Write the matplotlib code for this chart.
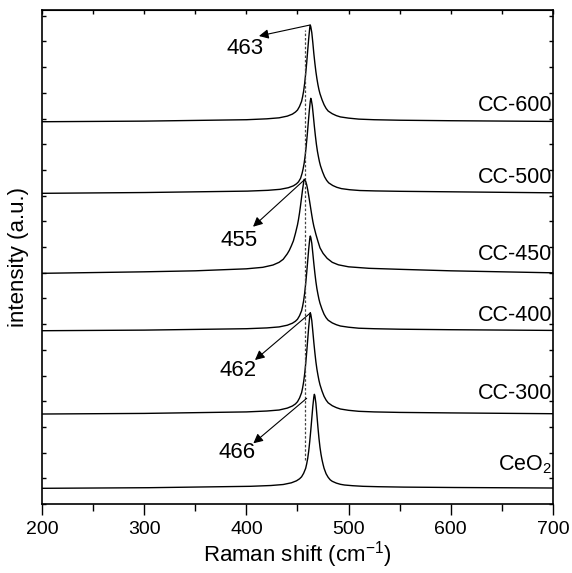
import numpy as np
import matplotlib
matplotlib.use('Agg')
import matplotlib.pyplot as plt
from matplotlib.ticker import MultipleLocator

plt.rcParams['font.family'] = ['Liberation Sans', 'DejaVu Sans']
plt.rcParams['mathtext.fontset'] = 'custom'
plt.rcParams['mathtext.rm'] = 'Liberation Sans'
plt.rcParams['mathtext.it'] = 'Liberation Sans:italic'

# ---------------------------------------------------------------
# data, intensity in a.u. above own baseline
# ---------------------------------------------------------------
names = ['CC-600', 'CC-500', 'CC-450', 'CC-400', 'CC-300', 'CeO$_2$']
offsets = [382.3, 310.7, 230.7, 173.3, 90.0, 15.7]

x_cc600 = [200, 300, 400, 420, 432, 440, 445, 448, 450, 452, 454, 455, 456, 457, 458, 459, 460, 461, 462, 462.5,
           463, 464, 465, 466, 467, 468, 469, 470, 471, 472, 474, 476, 478, 480, 484, 488, 492, 500, 510, 525,
           550, 600, 700]
y_cc600 = [0, 0.6, 2.0, 2.9, 3.9, 5.6, 7.6, 9.7, 11.7, 15.3, 20.4, 25, 30.6, 38.3, 48, 59, 71.5, 83.5, 94, 96.7,
           95, 89, 79, 68, 58.5, 50, 43, 37, 32, 28, 22, 17, 13.3, 10.7, 8, 6.1, 4.8, 3.6, 2.6, 2.0,
           1.5, 1.0, 0.3]

x_cc500 = [200, 301, 401, 421, 433, 441, 446, 449, 451, 453, 454.5, 455.5, 456.5, 457.5, 458.5, 459.5, 460.5,
           461.5, 462.5, 463, 463.5, 464.5, 465.5, 466.5, 467.5, 468.5, 469.5, 470.5, 471.5, 472.5, 474.5, 476.5,
           478.5, 480.5, 484.5, 488.5, 493, 501, 511, 526, 551, 601, 700]
y_cc500 = [0, 0.8, 2.2, 3.0, 4.0, 5.6, 7.5, 9.5, 11.5, 15, 20, 24.5, 30, 37.5, 47, 58, 70,
           82, 92, 95, 93.5, 87.5, 77.5, 67, 57.5, 49, 42, 36.5, 31.5, 27.5, 21.5, 16.5,
           13, 10.5, 7.8, 6, 4.7, 3.6, 2.8, 2.4, 2.0, 1.5, 0.5]

x_cc450 = [200, 300, 350, 400, 416, 426, 432, 436, 440, 442, 444, 446, 448, 450, 451, 452, 453, 454, 455, 456,
           456.5, 457, 458, 459, 460, 461, 462, 463, 464, 465, 466, 468, 470, 472, 475, 479, 484, 490, 500, 520,
           550, 600, 700]
y_cc450 = [0, 1.5, 2.5, 4.5, 6, 8.3, 11, 14, 19.5, 23, 27.5, 32.5, 40, 48.5, 54, 60.5, 68, 76, 84, 91,
           94, 93.8, 92, 88.5, 83.5, 77.5, 71, 64.5, 58, 52, 47, 39, 32, 25.5, 20, 15, 11, 8.5, 6.5, 5,
           4, 2.5, 0.5]

x_cc400 = x_cc600
y_cc400 = [0, 0.6, 2.0, 2.8, 3.8, 5.5, 7.5, 9.5, 11.5, 15, 20, 24.5, 30, 37.5, 47, 58, 70, 82, 92, 94.7,
           93.3, 87.3, 77.3, 67, 57.5, 49, 42, 36.5, 31.5, 27.5, 21.5, 16.5, 13, 10.5, 7.8, 6, 4.7, 3.5, 2.5, 2.0,
           1.5, 1.0, 0.3]

x_cc300 = x_cc600
y_cc300 = [0, 0.6, 2.1, 3.0, 4.0, 5.9, 8.0, 10.1, 12.3, 16, 21.3, 26.1, 32, 40, 50.1, 61.8, 74.6, 87.4, 98, 101.3,
           99.7, 93.3, 82.6, 71.4, 61.3, 52.2, 44.8, 38.9, 33.6, 29.3, 22.9, 17.6, 13.9, 11.2, 8.3, 6.4, 5.0, 3.7,
           2.7, 2.1, 1.6, 1.1, 0.3]

x_ceo2 = [200, 304, 404, 424, 436, 444, 449, 452, 454, 456, 458, 459, 460, 461, 462, 463, 464, 465, 466, 466.5,
          467, 468, 469, 470, 471, 472, 473, 474, 475, 476, 478, 480, 482, 484, 488, 492, 496, 504, 514, 529,
          554, 604, 700]
y_ceo2 = [0, 0.6, 2.0, 2.8, 3.8, 5.5, 7.5, 9.5, 11.5, 15, 20, 24.5, 30, 37.5, 47, 58, 70, 82, 91.5, 94,
          92.5, 85, 73, 61, 50, 41, 34, 28.5, 24, 20, 14.5, 11, 8.5, 7, 5.2, 4, 3.3, 2.6, 2.0, 1.6,
          1.2, 0.8, 0.3]

spectra_x = [x_cc600, x_cc500, x_cc450, x_cc400, x_cc300, x_ceo2]
spectra_y = [y_cc600, y_cc500, y_cc450, y_cc400, y_cc300, y_ceo2]

label_y = [399, 327, 250, 189, 111, 39]

# peak labels: text, peak (start), arrow tip, text position
peak_text = ['463', '455', '462', '466']
peak_start = [(462.2, 479), (457.3, 324.7), (462.2, 190.7), (459.0, 105.7)]
peak_tip = [(412.3, 468), (406.5, 277.3), (408.4, 144), (406.8, 60.7)]
peak_pos = [(398.6, 456), (393, 264), (391.5, 134), (390.5, 51.5)]

ref_x = 457.5
ref_y = (44, 474)

# ---------------------------------------------------------------
fig = plt.figure(figsize=(5.72, 5.73), dpi=100)
ax = fig.add_axes([0.0734, 0.1204, 0.8934, 0.8621])

for xs, ys, off in zip(spectra_x, spectra_y, offsets):
    ax.plot(xs, np.array(ys) + off, color='black', lw=1.0)

for name, ly in zip(names, label_y):
    ax.text(699, ly, name, ha='right', va='center', fontsize=15.5)

ax.plot([ref_x, ref_x], ref_y, color='#444444', lw=0.9, ls=(0, (2, 1.5)))

for t, s, tip, pos in zip(peak_text, peak_start, peak_tip, peak_pos):
    ax.annotate('', xy=tip, xytext=s,
                arrowprops=dict(arrowstyle='-|>', color='black', lw=0.8,
                                mutation_scale=14, shrinkA=0, shrinkB=0))
    ax.text(pos[0], pos[1], t, ha='center', va='center', fontsize=16)

ax.set_xlim(200, 700)
ax.set_ylim(0, 494)
ax.xaxis.set_major_locator(MultipleLocator(100))
ax.xaxis.set_minor_locator(MultipleLocator(50))
ax.yaxis.set_major_locator(MultipleLocator(25.7))
ax.tick_params(axis='x', which='major', direction='out', length=8, width=1.0, labelsize=14, pad=4)
ax.tick_params(axis='x', which='minor', direction='out', length=5, width=1.0)
ax.tick_params(axis='y', which='both', direction='in', length=3, width=1.0,
               left=True, right=True, labelleft=False)

# top axis ticks pointing in
top = ax.secondary_xaxis('top')
top.set_xticks(np.arange(200, 701, 50))
top.tick_params(direction='in', length=3, width=1.0, labeltop=False)
top.set_xticklabels([])

for sp in ax.spines.values():
    sp.set_linewidth(1.2)

ax.set_xlabel('Raman shift (cm$^{-1}$)', fontsize=16, labelpad=1)
ax.set_ylabel('intensity (a.u.)', fontsize=16, labelpad=9)

fig.savefig('out.png', dpi=100)
